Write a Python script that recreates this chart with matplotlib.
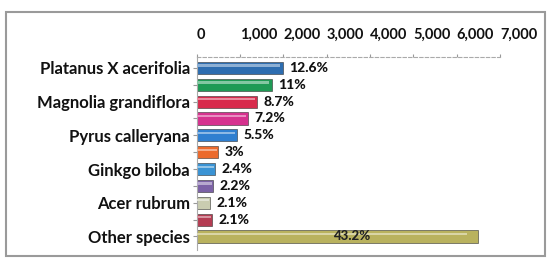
import matplotlib
matplotlib.use("Agg")
import matplotlib.pyplot as plt
import matplotlib.transforms as mtransforms
from matplotlib.patches import Rectangle
import numpy as np

species = ["Platanus X acerifolia", "", "Magnolia grandiflora", "", "Pyrus calleryana", "",
           "Ginkgo biloba", "", "Acer rubrum", "", "Other species"]
trees = [1990, 1730, 1390, 1180, 920, 490, 420, 370, 300, 350, 6490]
pct_labels = ["12.6%", "11%", "8.7%", "7.2%", "5.5%", "3%", "2.4%", "2.2%", "2.1%", "2.1%", "43.2%"]
colors = ["#2d6db0", "#1f9a55", "#d82a4c", "#d6328f", "#2f7fd0", "#ec6a2c",
          "#3a93d4", "#7c62a6", "#c9ccb0", "#b43c52", "#b9b25e"]
ticks = [0, 1000, 2000, 3000, 4000, 5000, 6000, 7000]

plt.rcParams['font.family'] = ['Lato', 'DejaVu Sans']

fig = plt.figure(figsize=(5.5, 2.59), dpi=100)
ax = fig.add_axes([0.358, 0.035, 0.551, 0.745])

y = np.arange(len(trees))
ax.barh(y, trees, height=0.72, color=colors, edgecolor="#333333", linewidth=0.4, zorder=2)

# light stripe to hint at the cylinder look
light = [matplotlib.colors.to_rgb(c) for c in colors]
light = [tuple(0.55 * v + 0.45 for v in c) for c in light]
ax.barh(y - 0.14, [t * 0.96 for t in trees], height=0.13, color=light, linewidth=0, zorder=3)

for i, (v, lab) in enumerate(zip(trees, pct_labels)):
    if i == len(trees) - 1:
        ax.text(v * 0.55, i, lab, ha="center", va="center", fontsize=9.5,
                fontweight="black", color="#222222", zorder=4)
    else:
        ax.text(v + 150, i, lab, ha="left", va="center", fontsize=10,
                fontweight="black", color="#111111", zorder=4)

ax.set_xlim(0, 7000)
ax.set_ylim(10.8, -0.65)
ax.xaxis.tick_top()
ax.set_xticks(ticks)
ax.set_xticklabels([f"{t:,}" for t in ticks], fontsize=10.5, fontweight="bold", ha="left")
shift = mtransforms.ScaledTranslation(5 / 100, 0, fig.dpi_scale_trans)
for lbl in ax.get_xticklabels():
    lbl.set_transform(lbl.get_transform() + shift)
ax.tick_params(axis="x", length=2, pad=9, colors="#999999", labelcolor="#111111")
ax.set_yticks(y)
ax.set_yticklabels(species, fontsize=12, fontweight="bold")
ax.tick_params(axis="y", length=3, pad=2, colors="#999999", labelcolor="#111111")

for s in ["right", "bottom"]:
    ax.spines[s].set_visible(False)
ax.spines["top"].set_linestyle((0, (3, 2)))
ax.spines["top"].set_color("#aaaaaa")
ax.spines["left"].set_color("#aaaaaa")

fig.patches.append(Rectangle((0.01, 0.012), 0.98, 0.94, transform=fig.transFigure,
                             fill=False, edgecolor="#9a9a9a", linewidth=1.5))

fig.savefig("out.png", dpi=100)
